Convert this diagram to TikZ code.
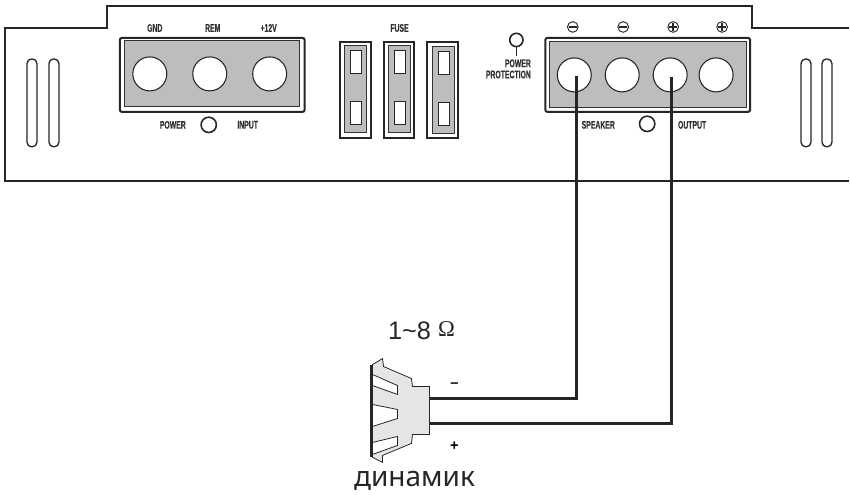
\documentclass[tikz,border=0pt]{standalone}
\usepackage{fontspec}
\setmainfont{Liberation Sans}
\newfontfamily\panelfont[FakeStretch=0.62,FakeBold=0.6]{Liberation Sans Bold}
\newfontfamily\wordfont{Noto Sans}
\newfontfamily\ohmfont{Liberation Serif}
\usetikzlibrary{arrows.meta}

\begin{document}
\begin{tikzpicture}[
    x=0.75pt, y=-0.75pt, % reference pixels, y grows downwards
    chassis/.style={line width=1.6pt, black!85},
    block/.style={draw=black!85, line width=1.5pt, fill=white, rounded corners=1.5pt},
    plate/.style={draw=black!80, line width=0.8pt, fill=black!26},
    post/.style={draw=black!85, line width=0.8pt, fill=white, circle, minimum size=25.5pt, inner sep=0pt},
    led/.style={draw=black!85, line width=1.2pt, fill=white, circle, minimum size=11.5pt, inner sep=0pt},
    sign/.style={draw=black!85, line width=0.7pt, circle, minimum size=8pt, inner sep=0pt},
    signbar/.style={line width=1pt, black!85, shorten >=1.3pt, shorten <=1.3pt},
    vent/.style={draw=black!85, line width=1pt, rounded corners=3.5pt},
    window/.style={draw=black!85, line width=0.8pt, fill=white},
    label/.style={font=\panelfont\fontsize{8.3}{9}\selectfont, text=black!80, inner sep=0pt},
    wire/.style={line width=2.4pt, black!85},
]

% amplifier body
\draw[chassis] (850,28) -- (753,28) -- (753,6) -- (107,6) -- (107,28) -- (5,28) -- (5,181) -- (850,181);

% vents
\foreach \xx in {27,49,802,823} {
    \draw[vent] (\xx,59) rectangle +(10,88);
}

% power block
\draw[block] (120,38) rectangle (305,112);
\draw[plate] (125,41) rectangle (300,107);
\node[post] (gnd) at (150,74) {};
\node[post] (rem) at (210,74) {};
\node[post] (plus12) at (270,74) {};
\node[label] (gndtext) at (155,28) {GND};
\node[label] (remtext) at (213,28) {REM};
\node[label] (plustext) at (269,28) {+12V};
\node[led] (powerled) at (209,125) {};
\node[label] (powertext) at (173,125) {POWER};
\node[label] (inputtext) at (248,125) {INPUT};

% fuses
\node[label] (fusetext) at (400,28) {FUSE};
\foreach \xx/\yy in {340/0,384/0,428/1} {
    \draw[block, rounded corners=0pt] (\xx,42) rectangle +(31,96);
    \draw[plate] (\xx+5,46+\yy) rectangle +(22,87);
    \draw[window] (\xx+11,51+\yy) rectangle +(11,23);
    \draw[window] (\xx+11,102+\yy) rectangle +(11,23);
}

% protection lamp
\node[led, minimum size=10pt] (lamp) at (517,40) {};
\coordinate (lampfoot) at (517,56);
\draw[line width=1.2pt, black!85] (lamp) -- (lampfoot);
\node[label, align=right, font=\panelfont\fontsize{8.3}{8.4}\selectfont] (lamptext) at (509,69) {POWER\\PROTECTION};

% speaker block
\draw[block] (546,38) rectangle (751,112);
\draw[plate] (550,42) rectangle (747,108);
\node[post] (out1) at (575,75) {};
\node[post] (out2) at (623,75) {};
\node[post] (out3) at (671,75) {};
\node[post] (out4) at (717,75) {};
\node[sign] (sign1) at (573.5,27) {};
\node[sign] (sign2) at (624,27) {};
\node[sign] (sign3) at (674,27) {};
\node[sign] (sign4) at (723,27) {};
\foreach \nn in {1,2,3,4} {
    \draw[signbar] (sign\nn.west) -- (sign\nn.east);
}
\foreach \nn in {3,4} {
    \draw[signbar] (sign\nn.north) -- (sign\nn.south);
}
\node[led] (outled) at (648,124) {};
\node[label] (speakertext) at (599,125) {SPEAKER};
\node[label] (outputtext) at (693,125) {OUTPUT};

% speaker
\draw[fill=black!10, draw=black!85, line width=0.6pt]
    (373,365) -- (383,359) -- (384,367) -- (412,379) -- (413,387) -- (430,387)
    -- (430,435) -- (413,435) -- (412,444) -- (383,456) -- (383,463) -- (373,458) -- cycle;
\draw[window, line width=0.6pt] (373,375) -- (398,386) -- (398,395) -- (373,386) -- cycle;
\draw[window, line width=0.6pt] (373,405) -- (398,410) -- (398,419) -- (373,427) -- cycle;
\draw[window, line width=0.6pt] (373,443) -- (398,437) -- (398,446) -- (373,455) -- cycle;
\draw[line width=2.2pt, black!85] (371.5,365) -- (371.5,458);
\coordinate (spkminus) at (430,399);
\coordinate (spkplus) at (430,424);
\node[inner sep=0pt, font=\bfseries\fontsize{11}{11}\selectfont] (minustext) at (455,386) {--};
\node[inner sep=0pt, font=\bfseries\fontsize{11}{11}\selectfont] (plustext2) at (455,447) {+};
\node[inner sep=0pt, font=\fontsize{19}{20}\selectfont, text=black!85] (ohms) at (422,331) {1\textasciitilde 8 \raisebox{2.2pt}{\ohmfont\fontsize{17}{18}\selectfont Ω}};
\node[inner sep=0pt, font=\wordfont\fontsize{21}{22}\selectfont, text=black!85] (word) at (415,481) {динамик};

% wires
\coordinate (wiretop1) at (577,76);
\coordinate (wiretop2) at (672.5,77);
\draw[wire] (wiretop1) -- (wiretop1 |- spkminus) -- (spkminus);
\draw[wire] (wiretop2) -- (wiretop2 |- spkplus) -- (spkplus);

\useasboundingbox (0,0) rectangle (850,495);
\end{tikzpicture}
\end{document}
